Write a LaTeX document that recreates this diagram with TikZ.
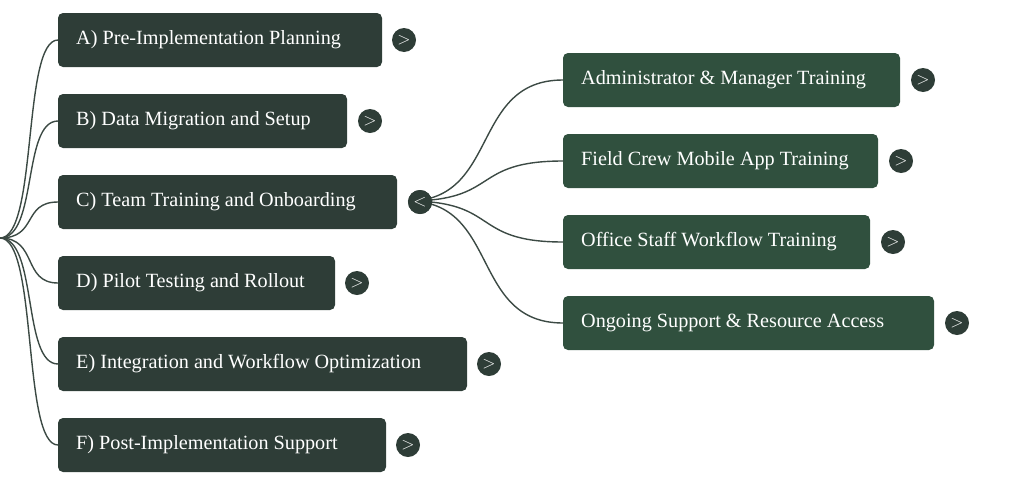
\documentclass[tikz,border=0pt]{standalone}
\usepackage{fontspec}
\setmainfont{Liberation Serif}
\begin{document}
\begin{tikzpicture}[x=1pt,y=-1pt,
 box/.style={fill=#1,rounded corners=5pt},
 lbl/.style={anchor=west,text=white,inner sep=0pt,font=\fontsize{20.2}{22}\selectfont},
 btn/.style={circle,fill=#1,minimum size=24pt,inner sep=0pt,text=white,font=\fontsize{18}{20}\selectfont},
 ln/.style={draw=lc,line width=1.4pt}]
\useasboundingbox (0,0) rectangle (1024,485);
\definecolor{lb}{HTML}{2E3D37}
\definecolor{rb}{HTML}{30503E}
\definecolor{lc}{HTML}{3C4A44}
\coordinate (o) at (0,238);
\foreach \n/\t/\xr/\yt/\yb/\cx in {a/A) Pre-Implementation Planning/382/13/67/404,b/B) Data Migration and Setup/347/94/148/370,c/C) Team Training and Onboarding/397/175/229/420,d/D) Pilot Testing and Rollout/335/256/310/357,e/E) Integration and Workflow Optimization/467/337/391/489,f/F) Post-Implementation Support/386/418/472/408}{
 \path[box=lb] (58,\yt) rectangle (\xr,\yb);
 \node[lbl] (\n) at (76,{(\yt+\yb)/2}) {\t};
 \coordinate (\n l) at (58,{(\yt+\yb)/2});
 \node[btn=lb] (\n c) at (\cx,{(\yt+\yb)/2}) {\ifx\n c$<$\else$>$\fi};
 \draw[ln] (o) .. controls (38,238) and (22,{(\yt+\yb)/2}) .. (\n l);
}
\coordinate (s) at (408,201);
\foreach \n/\t/\xr/\yt/\yb/\cx in {p/Administrator \& Manager Training/900/53/107/923,q/Field Crew Mobile App Training/878/134/188/901,r/Office Staff Workflow Training/870/215/269/893,u/Ongoing Support \& Resource Access/934/296/350/957}{
 \path[box=rb] (563,\yt) rectangle (\xr,\yb);
 \node[lbl] (\n) at (581,{(\yt+\yb)/2}) {\t};
 \coordinate (\n l) at (563,{(\yt+\yb)/2});
 \node[btn=lb] (\n c) at (\cx,{(\yt+\yb)/2}) {$>$};
 \draw[ln] (s) .. controls (500,201) and (470,{(\yt+\yb)/2}) .. (\n l);
}
\node[btn=lb] at (420,202) {$<$};
\end{tikzpicture}
\end{document}
